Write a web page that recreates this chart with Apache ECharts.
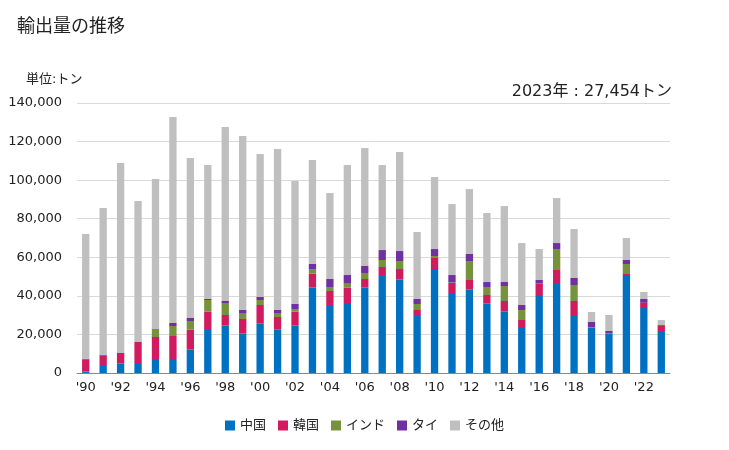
<!DOCTYPE html>
<html><head><meta charset="utf-8">
<script src="https://cdn.jsdelivr.net/npm/echarts@6/dist/echarts.min.js"></script>
<style>html,body{margin:0;padding:0;background:#fff}#c{width:729px;height:450px}</style>
</head><body><div id="c"></div>
<script>
const years = ['1990','1991','1992','1993','1994','1995','1996','1997','1998','1999','2000','2001','2002','2003','2004','2005','2006','2007','2008','2009','2010','2011','2012','2013','2014','2015','2016','2017','2018','2019','2020','2021','2022','2023'];
const china = [700,4150,4840,5180,7260,7260,12100,22810,24540,20390,25570,22460,24540,44240,35250,36290,44240,50800,48380,30070,53910,41470,43200,35940,31800,23330,39920,46660,29550,23330,20220,50280,33700,21770];
const korea = [6200,4850,5530,10890,11400,11920,10360,8990,5530,7600,9680,6570,7260,7250,7260,7950,4490,4150,5530,2590,5710,5190,5010,4500,5520,4150,6220,6740,7770,300,200,1040,2590,2590];
const india = [0,0,0,0,4150,5180,4500,6040,6220,2770,2590,1730,1380,2420,2070,2070,3110,3630,4150,3110,1030,300,9850,4140,7780,5180,200,10880,8300,100,100,5190,100,100];
const thai = [500,500,200,200,200,1560,1550,690,1030,2070,1560,1900,2590,2600,4150,4490,3630,5180,5180,2590,3630,3840,3630,2590,2070,2590,1870,3110,3630,2710,1250,2070,1970,420];
const others = [64660,76000,98290,72900,77560,106790,82950,69300,90210,90030,74130,83460,63760,53910,44580,57030,61170,44070,51330,34730,37330,36810,33700,35770,39400,32140,16070,23330,25400,5180,8300,11400,3630,2574];
const seriesNames = ['中国','韓国','インド','タイ','その他'];
const yTicks = [0,20000,40000,60000,80000,100000,120000,140000];

const colors = ['#0070C0','#D01C5E','#76923C','#7030A0','#BFBFBF'];
const dataSets = [china, korea, india, thai, others];
const font = '"DejaVu Sans", "Noto Sans CJK JP", sans-serif';
const chart = echarts.init(document.getElementById('c'), null, {renderer:'canvas'});
chart.setOption({
  animation:false,
  color: colors,
  textStyle:{fontFamily:font},
  title:[
    {text:'輸出量の推移', left:12, top:13, textStyle:{fontSize:18, fontWeight:'normal', color:'#222', fontFamily:font}},
    {text:'単位:トン', left:21, top:68, textStyle:{fontSize:13, fontWeight:'normal', color:'#222', fontFamily:font}},
    {text:'2023年 : 27,454トン', right:52, top:79, textStyle:{fontSize:16, fontWeight:'normal', color:'#222', fontFamily:font}}
  ],
  legend:{
    bottom:13, left:'center', itemWidth:10, itemHeight:10, itemGap:12, icon:'rect',
    textStyle:{fontSize:13, color:'#222', fontFamily:font},
    data: seriesNames
  },
  grid:{left:77, right:59, top:103, bottom:77, containLabel:false},
  xAxis:{
    type:'category', data:years,
    axisTick:{show:false},
    axisLine:{lineStyle:{color:'#888'}},
    axisLabel:{interval:1, color:'#222', fontSize:13, margin:8, fontFamily:font, formatter:v=>"'"+v.slice(2)}
  },
  yAxis:{
    type:'value', min:0, max:140000, interval:20000,
    axisLine:{show:false}, axisTick:{show:false},
    splitLine:{lineStyle:{color:'#d9d9d9'}},
    axisLabel:{color:'#222', fontSize:13, margin:15, fontFamily:font, formatter:v=>v.toLocaleString('en-US')}
  },
  series: seriesNames.map((n,i)=>({
    name:n, type:'bar', stack:'total', barWidth:'42%', data:dataSets[i]
  }))
});
</script></body></html>
